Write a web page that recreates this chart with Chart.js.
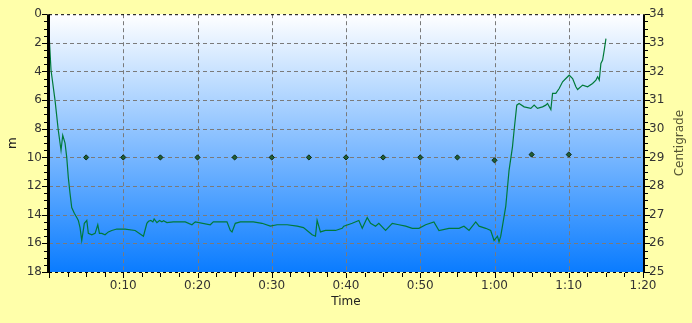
<!DOCTYPE html>
<html>
<head>
<meta charset="utf-8">
<script src="https://cdn.jsdelivr.net/npm/chart.js@4"></script>
<style>
  html, body { margin: 0; padding: 0; background: #FFFFAA; }
  #wrap { width: 692px; height: 323px; }
</style>
</head>
<body>
<div id="wrap"><canvas id="c" width="692" height="323"></canvas></div>
<script>
// Dive time (minutes) and depth (m)
const times = [0.00,0.27,0.81,1.25,1.62,1.85,2.16,2.39,2.60,2.83,3.06,3.41,3.74,3.95,4.18,4.41,4.76,5.09,5.30,5.76,
  6.21,6.57,6.79,7.11,7.55,8.00,8.46,9.13,10.25,11.60,12.72,13.18,13.40,13.72,13.99,14.16,14.53,14.88,15.20,15.42,
  15.88,16.73,18.35,19.25,19.70,21.72,22.13,23.97,24.42,24.65,25.09,25.77,27.52,28.69,29.81,30.72,32.07,33.42,34.27,35.44,
  35.89,36.11,36.56,37.23,38.58,39.49,39.70,40.84,41.73,42.19,42.86,43.31,43.98,44.42,45.33,46.23,47.12,48.03,48.93,49.82,
  50.73,51.84,52.52,53.87,55.22,55.89,56.57,57.47,57.92,58.82,59.49,59.94,60.40,60.61,60.84,61.07,61.52,61.96,62.42,62.64,
  63.00,63.31,63.99,64.89,65.34,65.79,66.47,66.91,67.14,67.59,67.82,68.26,68.71,69.17,69.61,70.06,70.52,70.96,71.19,71.87,
  72.54,73.21,73.66,73.89,74.11,74.33,74.56,74.78,75.01];
const depths = [1.3,3.9,6.0,8.1,9.5,8.45,9.0,10.0,11.4,12.5,13.5,13.9,14.2,14.4,14.9,15.8,14.6,14.4,15.3,15.4,
  15.3,14.7,15.3,15.3,15.4,15.2,15.1,15.0,15.0,15.1,15.5,14.6,14.46,14.4,14.5,14.3,14.55,14.4,14.5,14.42,
  14.55,14.5,14.5,14.7,14.5,14.7,14.5,14.5,15.1,15.2,14.6,14.5,14.5,14.6,14.8,14.7,14.7,14.8,14.9,15.4,
  15.5,14.4,15.2,15.1,15.1,14.95,14.8,14.6,14.4,14.95,14.2,14.6,14.8,14.6,15.1,14.6,14.7,14.8,14.95,14.95,
  14.7,14.5,15.1,14.95,14.95,14.8,15.1,14.5,14.8,14.95,15.1,15.8,15.5,15.9,15.5,14.8,13.4,10.9,9.26,8.1,
  6.35,6.23,6.47,6.58,6.35,6.58,6.47,6.35,6.23,6.65,5.53,5.53,5.19,4.72,4.49,4.26,4.49,5.07,5.26,4.95,
  5.07,4.84,4.6,4.37,4.6,3.44,3.2,2.51,1.7];
// Temperature samples
const tempTimes = [5,10,15,20,25,30,35,40,45,50,55,60,65,70];
const temps = [29,29,29,29,29,29,29,29,29,29,29,28.9,29.1,29.1];
// Axis ranges / ticks
const xTickMinutes = [0,10,20,30,40,50,60,70,80];
const depthRange = [0, 18];
const tempRange = [25, 34];

const FONT = 'DejaVu Sans';
const TXT = '#333333';

function fmtTime(v) {
  if (v === 0) return '';
  const h = Math.floor(v / 60), m = Math.round(v % 60);
  return h + ':' + (m < 10 ? '0' + m : m);
}

const decor = {
  id: 'decor',
  beforeDraw(chart) {
    const {ctx, chartArea: a} = chart;
    ctx.save();
    ctx.fillStyle = '#FFFFAA';
    ctx.fillRect(0, 0, chart.width, chart.height);
    const g = ctx.createLinearGradient(0, a.top, 0, a.bottom);
    g.addColorStop(0, '#ffffff');
    g.addColorStop(1, '#0a7cff');
    ctx.fillStyle = g;
    ctx.fillRect(a.left, a.top, a.right - a.left, a.bottom - a.top);
    ctx.restore();
  },
  beforeDatasetsDraw(chart) {
    const {ctx, chartArea: a, scales} = chart;
    ctx.save();
    ctx.strokeStyle = '#7a7a7a';
    ctx.lineWidth = 1;
    ctx.setLineDash([4, 3]);
    ctx.beginPath();
    for (let v = depthRange[0] + 2; v < depthRange[1]; v += 2) {
      const p = Math.round(scales.y.getPixelForValue(v)) + 0.5;
      ctx.moveTo(a.left, p); ctx.lineTo(a.right, p);
    }
    xTickMinutes.forEach(v => {
      if (v <= 0 || v >= 80) return;
      const p = Math.round(scales.x.getPixelForValue(v)) + 0.5;
      ctx.moveTo(p, a.top); ctx.lineTo(p, a.bottom);
    });
    ctx.stroke();
    ctx.restore();
  },
  afterDraw(chart) {
    const {ctx, chartArea: a, scales} = chart;
    ctx.save();
    ctx.strokeStyle = '#000';
    // top & bottom dashed borders
    ctx.lineWidth = 1;
    ctx.setLineDash([3, 3]);
    ctx.beginPath();
    ctx.moveTo(a.left, a.top + 0.5); ctx.lineTo(a.right, a.top + 0.5);
    ctx.moveTo(a.left, a.bottom + 0.5); ctx.lineTo(a.right, a.bottom + 0.5);
    ctx.stroke();
    ctx.setLineDash([]);
    // left & right solid borders
    ctx.lineWidth = 3;
    ctx.beginPath();
    ctx.moveTo(a.left - 0.5, a.top); ctx.lineTo(a.left - 0.5, a.bottom + 1);
    ctx.stroke();
    ctx.lineWidth = 2;
    ctx.beginPath();
    ctx.moveTo(a.right + 1, a.top); ctx.lineTo(a.right + 1, a.bottom + 1);
    ctx.stroke();
    // ticks
    ctx.lineWidth = 1;
    ctx.beginPath();
    const y = scales.y, y2 = scales.y2, x = scales.x;
    for (let v = depthRange[0]; v <= depthRange[1] + 1e-9; v += 0.5) {
      const p = Math.round(y.getPixelForValue(v)) + 0.5;
      const len = (Math.abs(v % 2) < 1e-9) ? 5 : 3;
      ctx.moveTo(a.left - 2, p); ctx.lineTo(a.left - 2 - len, p);
    }
    for (let v = tempRange[0]; v <= tempRange[1] + 1e-9; v += 0.25) {
      const p = Math.round(y2.getPixelForValue(v)) + 0.5;
      const len = (Math.abs(v - Math.round(v)) < 1e-9) ? 5 : 3;
      ctx.moveTo(a.right + 2, p); ctx.lineTo(a.right + 2 + len, p);
    }
    for (let v = 0; v <= 80 + 1e-9; v += 2.5) {
      const p = Math.round(x.getPixelForValue(v)) + 0.5;
      const len = (Math.abs(v % 10) < 1e-9) ? 5 : 4;
      ctx.moveTo(p, a.bottom + 1); ctx.lineTo(p, a.bottom + 1 + len);
    }
    ctx.stroke();
    // right axis title (reads bottom-to-top)
    ctx.translate(680, (a.top + a.bottom) / 2);
    ctx.rotate(-Math.PI / 2);
    ctx.fillStyle = '#555533';
    ctx.font = '12px "' + FONT + '"';
    ctx.textAlign = 'center';
    ctx.textBaseline = 'middle';
    ctx.fillText('Centigrade', 0, 0);
    ctx.restore();
  }
};

const depthData = times.map((t, i) => ({x: t, y: depths[i]}));
const tempData = tempTimes.map((t, i) => ({x: t, y: temps[i]}));

new Chart(document.getElementById('c'), {
  type: 'line',
  data: {
    datasets: [
      {
        label: 'Depth',
        data: depthData,
        yAxisID: 'y',
        borderColor: '#007a3a',
        borderWidth: 1.2,
        pointRadius: 0,
        tension: 0,
        fill: false
      },
      {
        label: 'Temperature',
        data: tempData,
        yAxisID: 'y2',
        showLine: false,
        pointStyle: 'rectRot',
        pointRadius: 2.6,
        pointBackgroundColor: '#1f5f35',
        pointBorderColor: '#0f2a15',
        pointBorderWidth: 1
      }
    ]
  },
  options: {
    responsive: false,
    animation: false,
    devicePixelRatio: 1,
    layout: { padding: { top: 14, left: 0, right: 0, bottom: 0 } },
    plugins: { legend: { display: false }, tooltip: { enabled: false } },
    scales: {
      x: {
        type: 'linear',
        min: 0, max: 80,
        afterBuildTicks: s => { s.ticks = xTickMinutes.map(v => ({value: v})); },
        afterFit: s => { s.height = 51; },
        ticks: {
          callback: v => fmtTime(v),
          font: { family: FONT, size: 12 },
          color: TXT,
          padding: 7,
          maxRotation: 0,
          autoSkip: false
        },
        grid: { display: false, drawTicks: false },
        border: { display: false },
        title: { display: true, text: 'Time', font: { family: FONT, size: 12 }, color: '#222', padding: { bottom: 14, top: 0 } }
      },
      y: {
        position: 'left',
        reverse: true,
        min: depthRange[0], max: depthRange[1],
        afterFit: s => { s.width = 49; },
        ticks: {
          stepSize: 2,
          font: { family: FONT, size: 12 },
          color: TXT,
          padding: 7
        },
        grid: { display: false, drawTicks: false },
        border: { display: false },
        title: { display: true, text: 'm', font: { family: FONT, size: 12 }, color: '#222', padding: { top: 6, bottom: 0 } }
      },
      y2: {
        position: 'right',
        min: tempRange[0], max: tempRange[1],
        afterFit: s => { s.width = 49; },
        ticks: {
          stepSize: 1,
          font: { family: FONT, size: 12 },
          color: TXT,
          padding: 6
        },
        grid: { display: false, drawTicks: false },
        border: { display: false }
      }
    }
  },
  plugins: [decor]
});
</script>
</body>
</html>
